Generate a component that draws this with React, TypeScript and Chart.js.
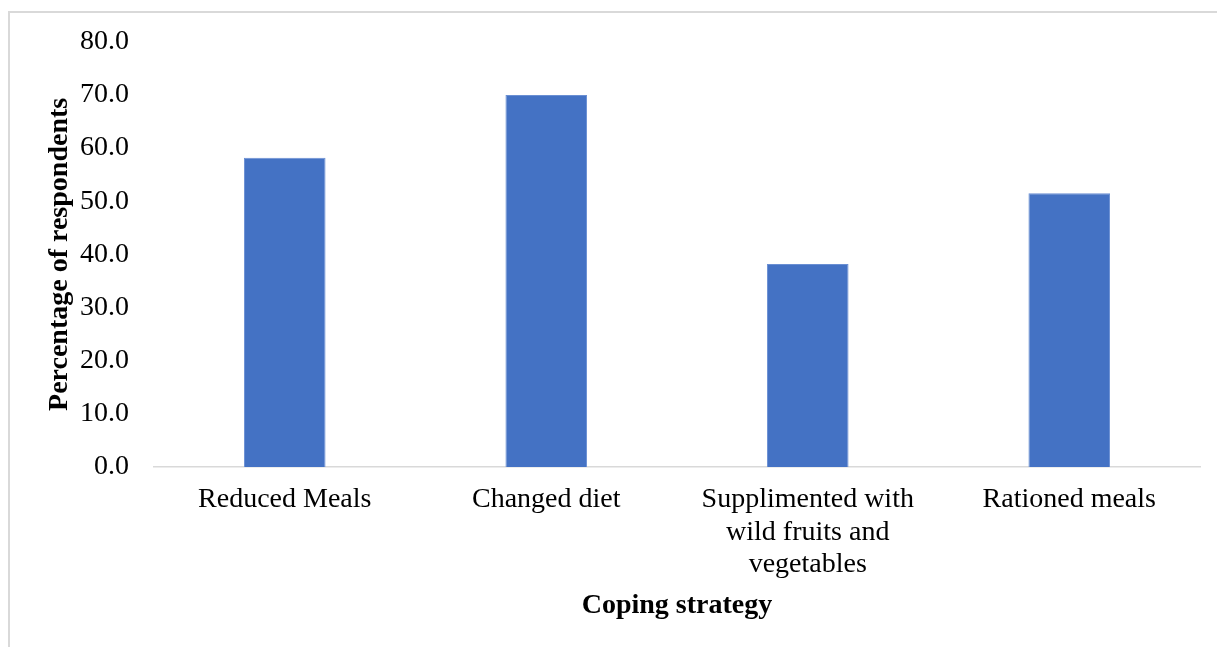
import React, { useEffect, useRef } from "react";
import { Chart, registerables } from "chart.js";

Chart.register(...registerables);

const categories: (string | string[])[] = [
  "Reduced Meals",
  "Changed diet",
  ["Supplimented with", "wild fruits and", "vegetables"],
  "Rationed meals",
];
const percentages = [58.2, 70.0, 38.2, 51.5];
const yTickMin = 0;
const yTickMax = 80;
const yTickStep = 10;
const xTitle = "Coping strategy";
const yTitle = "Percentage of respondents";

export default function App() {
  const ref = useRef<HTMLCanvasElement | null>(null);

  useEffect(() => {
    if (!ref.current) return;
    const font = "'Liberation Serif', 'Times New Roman', serif";
    const chart = new Chart(ref.current, {
      type: "bar",
      data: {
        labels: categories,
        datasets: [
          {
            data: percentages,
            backgroundColor: "#4472C4",
            borderColor: "#6a8fd3",
            borderWidth: 1,
            barPercentage: 0.312,
            categoryPercentage: 1,
          },
        ],
      },
      options: {
        animation: false,
        responsive: false,
        maintainAspectRatio: false,
        layout: { padding: { top: 41, right: 17, left: 0, bottom: 0 } },
        plugins: { legend: { display: false }, tooltip: { enabled: false } },
        scales: {
          x: {
            grid: { display: false, drawTicks: false },
            border: { display: true, color: "#d9d9d9", width: 1.5 },
            ticks: {
              color: "#000",
              font: { family: font, size: 28, lineHeight: 1.15 },
              padding: 17,
              maxRotation: 0,
              autoSkip: false,
            },
            title: {
              display: true,
              text: xTitle,
              color: "#000",
              font: { family: font, size: 28, weight: "bold", lineHeight: 1.2 },
              padding: { top: 0, bottom: 24 },
            },
            afterFit: (s: any) => {
              s.height = 647 - 467;
            },
          },
          y: {
            min: yTickMin,
            max: yTickMax,
            grid: { display: false, drawTicks: false },
            border: { display: false },
            ticks: {
              stepSize: yTickStep,
              color: "#000",
              font: { family: font, size: 28 },
              padding: 25,
              callback: (v: any) => Number(v).toFixed(1),
            },
            title: {
              display: true,
              text: yTitle,
              color: "#000",
              font: { family: font, size: 28, weight: "bold", lineHeight: 1.2 },
              padding: { top: 43, bottom: 0 },
            },
            afterFit: (s: any) => {
              s.width = 154;
            },
          },
        },
      },
    });
    return () => chart.destroy();
  }, []);

  return (
    <div style={{ position: "fixed", left: 0, top: 0, width: 1217, height: 647, overflow: "hidden", background: "#fff" }}>
      <div
        style={{
          position: "absolute",
          left: 8,
          top: 11,
          width: 1400,
          height: 800,
          border: "2px solid #d9d9d9",
        }}
      />
      <canvas ref={ref} width={1217} height={647} style={{ position: "absolute", left: 0, top: 0 }} />
    </div>
  );
}
